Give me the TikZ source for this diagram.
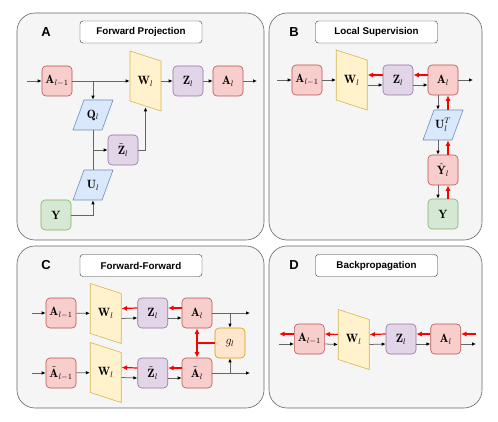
\documentclass[tikz,border=0pt]{standalone}
\usepackage{fontspec}
\setsansfont{Liberation Sans}
\usepackage{amssymb}
\usetikzlibrary{arrows.meta}
\definecolor{panelfill}{HTML}{F5F5F5}
\definecolor{panelline}{HTML}{666666}
\definecolor{redfill}{HTML}{F8CECC}
\definecolor{redline}{HTML}{B85450}
\definecolor{purfill}{HTML}{E1D5E7}
\definecolor{purline}{HTML}{9673A6}
\definecolor{yelfill}{HTML}{FFF2CC}
\definecolor{yelline}{HTML}{D6B656}
\definecolor{bluefill}{HTML}{DAE8FC}
\definecolor{blueline}{HTML}{6C8EBF}
\definecolor{grnfill}{HTML}{D5E8D4}
\definecolor{grnline}{HTML}{82B366}
\definecolor{orgfill}{HTML}{FFE6CC}
\definecolor{orgline}{HTML}{D79B00}
\tikzset{
  box/.style={rounded corners=4pt, minimum width=30pt, minimum height=30pt,
              inner sep=0pt, line width=0.6pt, font=\fontsize{12}{14}\selectfont},
  actbox/.style={box, draw=redline, fill=redfill},
  prebox/.style={box, draw=purline, fill=purfill},
  lblbox/.style={box, draw=grnline, fill=grnfill},
  lossbox/.style={box, draw=orgline, fill=orgfill},
  wbox/.style={box, minimum width=31pt, minimum height=60pt},
  pbox/.style={box, minimum width=40pt},
  wshape/.style={draw=yelline, fill=yelfill, line width=0.6pt},
  pshape/.style={draw=blueline, fill=bluefill, line width=0.6pt},
  panel/.style={draw=panelline, fill=panelfill, rounded corners=18pt, line width=0.6pt},
  titlebox/.style={draw=black!80, fill=white, rounded corners=3pt, minimum width=122pt,
                   minimum height=22pt, font=\sffamily\bfseries\fontsize{9.8}{11}\selectfont},
  letter/.style={font=\sffamily\bfseries\fontsize{13}{15}\selectfont},
  fwd/.style={draw=black!60, line width=0.75pt, -{Latex[color=black,length=4pt,width=3.5pt]}},
  bwd/.style={draw=red, line width=1.2pt, -{Latex[length=5.5pt,width=5pt]}},
  bwdboth/.style={draw=red, line width=1.2pt, {Latex[length=5.5pt,width=5pt]}-{Latex[length=5.5pt,width=5pt]}}
}
\newcommand{\weightnode}[3]{
  \draw[wshape] (#2-15.5,#3-30) -- (#2+15.5,#3-20) -- (#2+15.5,#3+30) -- (#2-15.5,#3+20) -- cycle;
  \node[wbox] (#1) at (#2,#3) {$\mathbf{W}_l$};
}
\newcommand{\projnode}[4]{
  \draw[pshape] (#2-9,#3-15) -- (#2+20,#3-15) -- (#2+9,#3+15) -- (#2-20,#3+15) -- cycle;
  \node[pbox] (#1) at (#2,#3) {#4};
}

\begin{document}
\begin{tikzpicture}[x=1pt, y=-1pt]
	\useasboundingbox (0,0) rectangle (498,422);
	% A
	\draw[panel] (17,13) rectangle (264,240);
	\node[letter] (labA) at (46,32) {A};
	\node[titlebox] (titA) at (141,32) {Forward Projection};
	\node[actbox] (ApA) at (57,81) {$\mathbf{A}_{l-1}$};
	\weightnode{WA}{145.5}{81}
	\node[prebox] (ZA) at (188,81) {$\mathbf{Z}_l$};
	\node[actbox] (AA) at (228,81) {$\mathbf{A}_l$};
	\projnode{QA}{93}{115}{$\mathbf{Q}_l$}
	\node[prebox] (ZtA) at (123,150) {$\tilde{\mathbf{Z}}_l$};
	\projnode{UA}{93}{185}{$\mathbf{U}_l$}
	\node[lblbox] (YA) at (56,215) {$\mathbf{Y}$};
	\coordinate (inA) at (27,81);
	\coordinate (outA) at (257,81);
	\draw[fwd] (inA) -- (ApA);
	\draw[fwd] (ApA) -- (WA);
	\draw[fwd] (QA.north |- ApA.east) -- (QA.north);
	\draw[fwd] (WA) -- (ZA);
	\draw[fwd] (ZA) -- (AA);
	\draw[fwd] (AA) -- (outA);
	\draw[fwd,-] (QA) -- (UA);
	\draw[fwd] (QA.south |- ZtA.west) -- (ZtA);
	\draw[fwd] (ZtA) -| ([yshift=4pt]WA.south);
	\draw[fwd] (YA) -| (UA);
	% B
	\draw[panel] (269,13) rectangle (482,240);
	\node[letter] (labB) at (294,32) {B};
	\node[titlebox] (titB) at (376.5,32) {Local Supervision};
	\node[actbox] (ApB) at (307,80) {$\mathbf{A}_{l-1}$};
	\weightnode{WB}{351.7}{80}
	\node[prebox] (ZB) at (398,80) {$\mathbf{Z}_l$};
	\node[actbox] (AB) at (443,80) {$\mathbf{A}_l$};
	\projnode{UB}{443}{125}{$\mathbf{U}_l^T$}
	\node[actbox] (YhB) at (443,170) {$\hat{\mathbf{Y}}_l$};
	\node[lblbox] (YB) at (443,214) {$\mathbf{Y}$};
	\coordinate (inB) at (277,80);
	\coordinate (outB) at (473,80);
	\draw[fwd] (inB) -- (ApB);
	\draw[fwd] (ApB) -- (WB);
	\draw[fwd] ([yshift=-5pt]WB.east) -- ([yshift=-5pt]ZB.west);
	\draw[fwd] ([yshift=-5pt]ZB.east) -- ([yshift=-5pt]AB.west);
	\draw[fwd] (AB) -- (outB);
	\draw[bwd] ([yshift=5pt]ZB.west) -- ([yshift=5pt]WB.east);
	\draw[bwd] ([yshift=5pt]AB.west) -- ([yshift=5pt]ZB.east);
	\draw[fwd] ([xshift=-5pt]AB.south) -- ([xshift=-5pt]UB.north);
	\draw[fwd] ([xshift=-5pt]UB.south) -- ([xshift=-5pt]YhB.north);
	\draw[fwd] ([xshift=-5pt]YhB.south) -- ([xshift=-5pt]YB.north);
	\draw[bwd] ([xshift=5pt]UB.north) -- ([xshift=5pt]AB.south);
	\draw[bwd] ([xshift=5pt]YhB.north) -- ([xshift=5pt]UB.south);
	\draw[bwd] ([xshift=5pt]YB.north) -- ([xshift=5pt]YhB.south);
	% C
	\draw[panel] (17,246) rectangle (264,408);
	\node[letter] (labC) at (46,265.5) {C};
	\node[titlebox] (titC) at (141,265.5) {Forward-Forward};
	\node[actbox] (ApC) at (61,313) {$\mathbf{A}_{l-1}$};
	\weightnode{WC}{105.7}{313.5}
	\node[prebox] (ZC) at (152.7,313) {$\mathbf{Z}_l$};
	\node[actbox] (AC) at (197,313) {$\mathbf{A}_l$};
	\node[actbox] (AtpC) at (61,373) {$\tilde{\mathbf{A}}_{l-1}$};
	\weightnode{WtC}{105.7}{372.5}
	\node[prebox] (ZtC) at (152.7,373) {$\tilde{\mathbf{Z}}_l$};
	\node[actbox] (AtC) at (197,373) {$\tilde{\mathbf{A}}_l$};
	\node[lossbox] (gC) at (230,343) {$g_l$};
	\coordinate (inC) at (32,313);
	\coordinate (outC) at (250,313);
	\coordinate (intC) at (32,373);
	\coordinate (outtC) at (250,373);
	\draw[fwd] (inC) -- (ApC);
	\draw[fwd] (ApC) -- (WC);
	\draw[fwd] ([yshift=-5pt]WC.east) -- ([yshift=-5pt]ZC.west);
	\draw[fwd] ([yshift=-5pt]ZC.east) -- ([yshift=-5pt]AC.west);
	\draw[fwd] (AC) -- (outC);
	\draw[fwd] (gC.north |- AC.east) -- (gC.north);
	\draw[bwd] ([yshift=5pt]ZC.west) -- ([yshift=5pt]WC.east);
	\draw[bwd] ([yshift=5pt]AC.west) -- ([yshift=5pt]ZC.east);
	\draw[fwd] (intC) -- (AtpC);
	\draw[fwd] (AtpC) -- (WtC);
	\draw[fwd] ([yshift=-5pt]WtC.east) -- ([yshift=-5pt]ZtC.west);
	\draw[fwd] ([yshift=-5pt]ZtC.east) -- ([yshift=-5pt]AtC.west);
	\draw[fwd] (AtC) -- (outtC);
	\draw[fwd] (gC.south |- AtC.east) -- (gC.south);
	\draw[bwd] ([yshift=5pt]ZtC.west) -- ([yshift=5pt]WtC.east);
	\draw[bwd] ([yshift=5pt]AtC.west) -- ([yshift=5pt]ZtC.east);
	\draw[bwdboth] (AC) -- (AtC);
	\draw[bwd,-] (gC.west) -- (gC.west -| AC.south);
	% D
	\draw[panel] (269,246) rectangle (482,408);
	\node[letter] (labD) at (294,265.5) {D};
	\node[titlebox] (titD) at (376.5,265.5) {Backpropagation};
	\node[actbox] (ApD) at (309.3,339) {$\mathbf{A}_{l-1}$};
	\weightnode{WD}{353.7}{339.5}
	\node[prebox] (ZD) at (401,339) {$\mathbf{Z}_l$};
	\node[actbox] (AD) at (445.7,339) {$\mathbf{A}_l$};
	\coordinate (inD) at (279,339);
	\coordinate (outD) at (476,339);
	\draw[fwd] ([yshift=-5pt]inD) -- ([yshift=-5pt]ApD.west);
	\draw[fwd] ([yshift=-5pt]ApD.east) -- ([yshift=-5pt]WD.west);
	\draw[fwd] ([yshift=-5pt]WD.east) -- ([yshift=-5pt]ZD.west);
	\draw[fwd] ([yshift=-5pt]ZD.east) -- ([yshift=-5pt]AD.west);
	\draw[fwd] ([yshift=-5pt]AD.east) -- ([yshift=-5pt]outD);
	\draw[bwd] ([yshift=5pt]outD) -- ([yshift=5pt]AD.east);
	\draw[bwd] ([yshift=5pt]AD.west) -- ([yshift=5pt]ZD.east);
	\draw[bwd] ([yshift=5pt]ZD.west) -- ([yshift=5pt]WD.east);
	\draw[bwd] ([yshift=5pt]WD.west) -- ([yshift=5pt]ApD.east);
	\draw[bwd] ([yshift=5pt]ApD.west) -- ([yshift=5pt]inD);
\end{tikzpicture}
\end{document}
